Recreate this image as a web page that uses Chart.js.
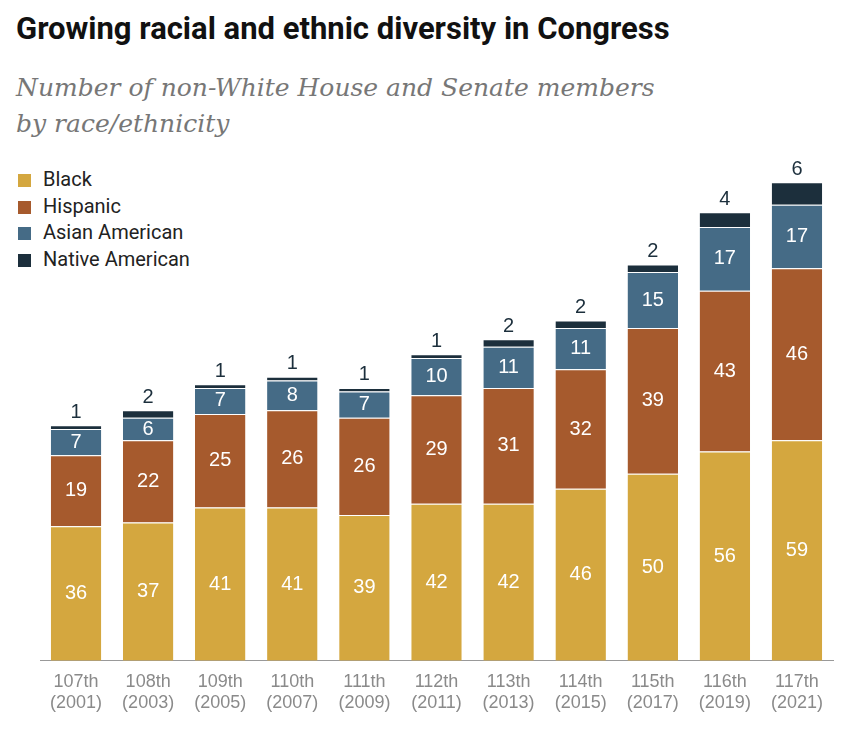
<!DOCTYPE html>
<html><head><meta charset="utf-8">
<script src="https://cdn.jsdelivr.net/npm/chart.js@4/dist/chart.umd.min.js"></script>
<style>
body{margin:0;background:#fff;width:844px;height:734px;overflow:hidden;position:relative;font-family:"Liberation Sans Narrow","Roboto","Liberation Sans",sans-serif}
#title{position:absolute;left:16px;top:10px;font-size:31px;font-weight:bold;color:#111}
#sub{position:absolute;left:16px;top:70px;font-family:"DejaVu Serif","Liberation Serif",serif;font-style:italic;font-size:25px;line-height:36px;color:#777}
#leg{position:absolute;left:18px;top:166px;font-size:20px;color:#222;line-height:26.5px}
#leg span{display:inline-block;width:13px;height:13px;margin-right:12px;vertical-align:-1px}
canvas{position:absolute;left:0;top:0}
</style></head><body>
<div id="title">Growing racial and ethnic diversity in Congress</div>
<div id="sub">Number of non-White House and Senate members<br>by race/ethnicity</div>
<div id="leg">
<div><span style="background:#d4a73f"></span>Black</div>
<div><span style="background:#a65a2d"></span>Hispanic</div>
<div><span style="background:#456b86"></span>Asian American</div>
<div><span style="background:#1c2f3c"></span>Native American</div>
</div>
<canvas id="c" width="844" height="734"></canvas>
<script>
// data
const congresses = [["107th","(2001)"],["108th","(2003)"],["109th","(2005)"],["110th","(2007)"],["111th","(2009)"],["112th","(2011)"],["113th","(2013)"],["114th","(2015)"],["115th","(2017)"],["116th","(2019)"],["117th","(2021)"]];
const black = [36,37,41,41,39,42,42,46,50,56,59];
const hispanic = [19,22,25,26,26,29,31,32,39,43,46];
const asian = [7,6,7,8,7,10,11,11,15,17,17];
const native = [1,2,1,1,1,1,2,2,2,4,6];

const colors = ['#d4a73f','#a65a2d','#456b86','#1c2f3c'];

// 🟢 labels inside segments, native above stack
const labelPlugin = {
  id: 'segLabels',
  afterDatasetsDraw(chart) {
    const ctx = chart.ctx;
    ctx.save();
    ctx.font = '20px "Liberation Sans Narrow","Liberation Sans",sans-serif';
    ctx.textAlign = 'center';
    chart.data.datasets.forEach((ds, i) => {
      chart.getDatasetMeta(i).data.forEach((bar, j) => {
        if (i < 3) {
          ctx.fillStyle = '#fff';
          ctx.textBaseline = 'middle';
          ctx.fillText(ds.data[j], bar.x, (bar.y + bar.base) / 2);
        } else {
          ctx.fillStyle = '#1c2f3c';
          ctx.textBaseline = 'bottom';
          ctx.fillText(ds.data[j], bar.x, bar.y - 3);
        }
      });
    });
    ctx.restore();
  }
};

const names = ['Black','Hispanic','Asian American','Native American'];
const series = [black, hispanic, asian, native];

new Chart(document.getElementById('c'), {
  type: 'bar',
  data: {
    labels: congresses,
    datasets: series.map((d, i) => ({
      label: names[i], data: d, backgroundColor: colors[i],
      borderColor: '#fff', borderWidth: {top: 1}, borderSkipped: 'bottom',
      barPercentage: 0.7, categoryPercentage: 1
    }))
  },
  options: {
    responsive: false, animation: false,
    layout: {padding: {left: 40, right: 11, top: 100, bottom: 18}},
    plugins: {legend: {display: false}, tooltip: {enabled: false}},
    scales: {
      x: {stacked: true, grid: {display: false}, border: {color: '#999'},
          ticks: {color: '#8a8a8a', font: {size: 18, family: '"Liberation Sans Narrow","Liberation Sans",sans-serif'}, padding: 2}},
      y: {stacked: true, display: false, min: 0, max: 150}
    }
  },
  plugins: [labelPlugin]
});
</script>
</body></html>
